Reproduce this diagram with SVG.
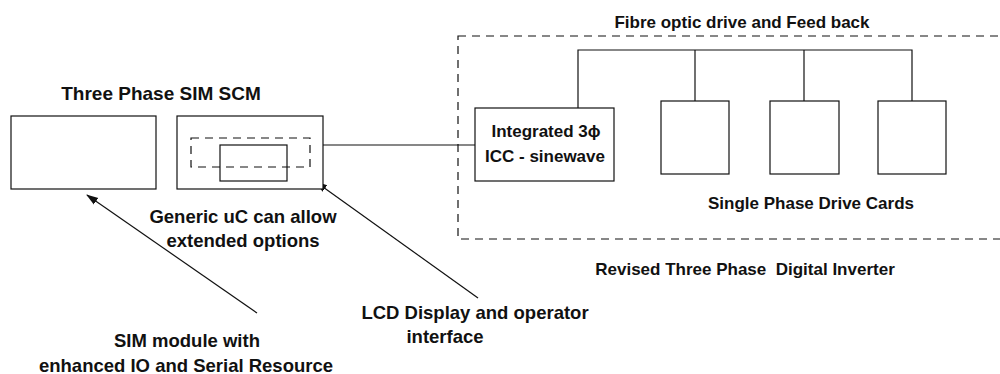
<svg xmlns="http://www.w3.org/2000/svg" width="1000" height="374" viewBox="0 0 1000 374">
<style>
text{font-family:"Liberation Sans",Arial,sans-serif;font-size:17px;font-weight:bold;fill:#111;text-anchor:middle;white-space:pre}
.s{font-size:18.5px}
.t{font-size:19px}
.b{fill:#fff;stroke:#111;stroke-width:1.2}
.d{fill:none;stroke:#111;stroke-width:1.2;stroke-dasharray:8 6}
.l{fill:none;stroke:#111;stroke-width:1.2}
</style>
<defs>
<marker id="ah" markerWidth="12" markerHeight="10" refX="11" refY="5" orient="auto" markerUnits="userSpaceOnUse">
<path d="M0,1 L12,5 L0,9 Z" fill="#111"/>
</marker>
</defs>
<g id="inverter">
<rect class="d" x="458" y="36" width="548" height="203"/>
<text x="742" y="28">Fibre optic drive and Feed back</text>
<text x="811" y="209">Single Phase Drive Cards</text>
<text x="745" y="275" xml:space="preserve">Revised Three Phase  Digital Inverter</text>
</g>
<g id="connectors">
<line class="l" x1="323" y1="145" x2="475" y2="145"/>
<polyline class="l" points="578,108 578,50 912,50 912,101"/>
<line class="l" x1="695" y1="50" x2="695" y2="101"/>
<line class="l" x1="804" y1="50" x2="804" y2="101"/>
<line class="l" x1="257" y1="313" x2="87" y2="195" marker-end="url(#ah)"/>
<line class="l" x1="478" y1="298" x2="316" y2="182" marker-end="url(#ah)"/>
</g>
<g id="sim">
<rect class="b" x="11" y="116" width="145" height="73"/>
</g>
<g id="scm">
<text class="t" x="161" y="100">Three Phase SIM SCM</text>
<rect class="b" x="177" y="116" width="146" height="73"/>
<rect class="d" x="191" y="138" width="119" height="29"/>
<rect class="l" x="220" y="145" width="67" height="36"/>
</g>
<g id="icc">
<rect class="b" x="475" y="108" width="139" height="73"/>
<text x="546" y="137">Integrated 3ϕ</text>
<text x="545" y="162">ICC - sinewave</text>
</g>
<g id="card1"><rect class="b" x="661" y="101" width="68" height="73"/></g>
<g id="card2"><rect class="b" x="770" y="101" width="69" height="73"/></g>
<g id="card3"><rect class="b" x="878" y="101" width="68" height="73"/></g>
<g id="labels">
<text class="s" x="243" y="223">Generic uC can allow</text>
<text class="s" x="243" y="247">extended options</text>
<text class="s" x="187" y="347">SIM module with</text>
<text class="s" x="186" y="372">enhanced IO and Serial Resource</text>
<text class="s" x="475" y="319">LCD Display and operator</text>
<text class="s" x="445" y="343">interface</text>
</g>
</svg>
